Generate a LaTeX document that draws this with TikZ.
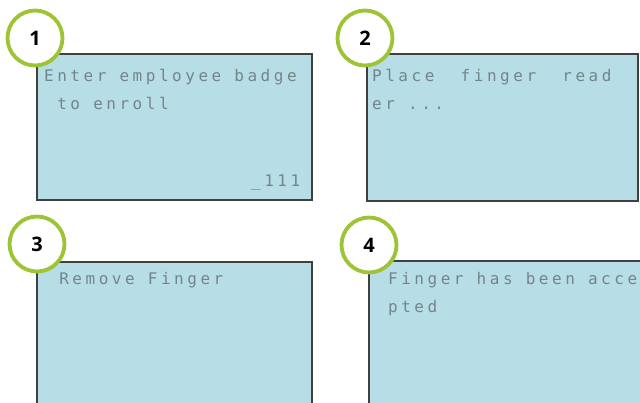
\documentclass[tikz,border=0pt]{standalone}
\usepackage{fontspec}
\setmainfont{Open Sans}
\newfontfamily\lcdfont[LetterSpace=22]{DejaVu Sans Mono}
\begin{document}
\begin{tikzpicture}[x=1pt,y=-1pt,
  screen/.style={draw=black!75,line width=1.3pt,fill=lcdblue},
  badge/.style={circle,draw=badgegreen,line width=3.8pt,fill=white,minimum size=55pt,inner sep=0pt,
    font=\fontsize{20}{20}\selectfont\bfseries,text=black},
  lcd/.style={anchor=base west,inner sep=0pt,text=lcdgray,font=\lcdfont\fontsize{16}{16}\selectfont}]
\definecolor{lcdblue}{HTML}{B7DDE6}
\definecolor{badgegreen}{HTML}{9CC434}
\definecolor{lcdgray}{HTML}{74858A}
\useasboundingbox (0,0) rectangle (640,403);
\begin{scope}
\clip (0,0) rectangle (640,403);
% screens
\draw[screen] (37,54) rectangle (312,200);
\draw[screen] (367,54) rectangle (638,201);
\draw[screen] (37,262) rectangle (312,420);
\draw[screen] (369,261) rectangle (660,420);
% texts
\node[lcd] (t1a) at (44,82) {Enter employee badge};
\node[lcd] (t1b) at (44,110) {\ to enroll};
\node[lcd] (t1c) at (251,187) {\_111};
\node[lcd] (t2a) at (372,82) {Place\ \ finger\ \ read};
\node[lcd] (t2b) at (372,110) {er\ ...};
\node[lcd] (t3a) at (46,285) {\ Remove Finger};
\node[lcd] (t4a) at (388,285) {Finger has been acce};
\node[lcd] (t4b) at (388,313) {pted};
% badges
\node[badge] (n1) at (35,38) {1};
\node[badge] (n2) at (365,38) {2};
\node[badge] (n3) at (37,244) {3};
\node[badge] (n4) at (369,245) {4};
\end{scope}
\end{tikzpicture}
\end{document}
